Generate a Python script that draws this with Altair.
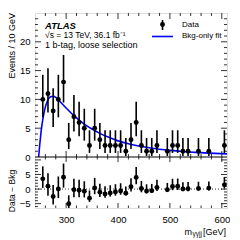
import altair as alt
import pandas as pd

# ---- data ----
bin_center = [255, 265, 275, 285, 295, 305, 315, 325, 335, 345, 355, 365, 375, 385, 395,
              405, 415, 425, 435, 445, 455, 465, 475, 495, 505, 515, 525, 535, 555, 575, 605]
events = [10, 11, 8, 10, 13, 3, 7, 6, 5, 2, 5, 3, 2, 2, 2,
          2, 1, 3, 6, 2, 1, 1, 2, 1, 2, 2, 1, 1, 1, 1, 2]
err_low = [6.89, 7.73, 5.23, 6.89, 9.45, 1.37, 4.42, 3.62, 2.84, 0.71, 2.84, 1.37, 0.71, 0.71, 0.71,
           0.71, 0.17, 1.37, 3.62, 0.71, 0.17, 0.17, 0.71, 0.17, 0.71, 0.71, 0.17, 0.17, 0.17, 0.17, 0.71]
err_high = [14.27, 15.42, 11.95, 14.27, 17.72, 5.92, 10.77, 9.58, 8.38, 4.64, 8.38, 5.92, 4.64, 4.64, 4.64,
            4.64, 3.30, 5.92, 9.58, 4.64, 3.30, 3.30, 4.64, 3.30, 4.64, 4.64, 3.30, 3.30, 3.30, 3.30, 4.64]
residual = [3.5, 1.0, -2.55, 0.05, 4.03, -5.05, -0.2, -0.42, -0.72, -3.12, 0.4, -1.1, -1.7, -1.33, -0.97,
            -0.65, -1.4, 0.8, 4.0, 0.17, -0.67, -0.54, 0.59, -0.2, 0.89, 0.97, 0.05, 0.11, 0.22, 0.32, 1.44]

fit_mass = [247, 249, 251, 253, 255, 257, 260, 263, 266, 270, 275, 280, 285, 290, 300, 310, 320, 330,
            340, 350, 365, 380, 400, 420, 440, 460, 480, 500, 525, 550, 575, 610]
fit_events = [0, 2.0, 3.8, 5.3, 6.5, 7.5, 8.7, 9.5, 10.1, 10.45, 10.55, 10.35, 9.95, 9.45, 8.5, 7.6, 6.8, 6.05,
              5.4, 4.85, 4.1, 3.5, 2.8, 2.3, 1.9, 1.6, 1.35, 1.15, 0.95, 0.8, 0.68, 0.55]

x_labels = [300, 400, 500, 600]
x_minor = [260, 280, 320, 340, 360, 380, 420, 440, 460, 480, 520, 540, 560, 580]
up_labels = [0, 5, 10, 15, 20]
up_major = [5, 10, 15, 20]
up_minor = [1, 2, 3, 4, 6, 7, 8, 9, 11, 12, 13, 14, 16, 17, 18, 19, 21, 22, 23, 24]
lo_labels = [-5, 0, 5]
lo_major = [-5, 0, 5, 10]
lo_minor = [-6, -4, -3, -2, -1, 1, 2, 3, 4, 6, 7, 8, 9]

# ---- layout ----
W = 192
H_UP = 144
H_LO = 51
H = H_UP + H_LO
FONT = "Liberation Sans"

df = pd.DataFrame({"m": bin_center, "n": events, "lo": err_low, "hi": err_high, "r": residual})
fit_df = pd.DataFrame({"m": fit_mass, "b": fit_events})

xs = alt.Scale(domain=[240, 610], nice=False, zero=False)
xax = alt.Axis(values=x_labels, ticks=False, domain=False, grid=False, labelPadding=6,
               labelFontSize=9.5, labelFont=FONT, labelColor="black", title=None)
yus = alt.Scale(domain=[0, 25], range=[H_UP, 0], nice=False, zero=False)
yuax = alt.Axis(values=up_labels, labelExpr="datum.value <= 20 ? datum.label : ''",
                ticks=False, domain=False, grid=False, labelPadding=5,
                labelFontSize=9.5, labelFont=FONT, labelColor="black", title=None, orient="left")
yls = alt.Scale(domain=[-6.5, 11], range=[H, H_UP], nice=False, zero=False)
ylax = alt.Axis(values=lo_labels, labelExpr="datum.value <= 5 ? datum.label : ''",
                ticks=False, domain=False, grid=False, labelPadding=5,
                labelFontSize=9.5, labelFont=FONT, labelColor="black", title=None, orient="left")


def X(f):
    return alt.X(f, type="quantitative", scale=xs, axis=xax)


def xticks(vals, y0, y1):
    return alt.Chart(pd.DataFrame({"v": vals})).mark_rule(color="black", strokeWidth=0.8).encode(
        x=X("v"), y=alt.value(y0), y2=alt.value(y1))


def yticks(vals, scale, axis, length):
    d = pd.DataFrame({"v": vals})
    left = alt.Chart(d).mark_rule(color="black", strokeWidth=0.8).encode(
        y=alt.Y("v:Q", scale=scale, axis=axis), x=alt.value(0), x2=alt.value(length))
    right = alt.Chart(d).mark_rule(color="black", strokeWidth=0.8).encode(
        y=alt.Y("v:Q", scale=scale, axis=axis), x=alt.value(W), x2=alt.value(W - length))
    return [left, right]


def text(s, x, y, size=9, align="left", weight="normal", style="normal", angle=0, baseline="middle",
         color="black"):
    return alt.Chart(pd.DataFrame({"t": [s]})).mark_text(
        text=s, align=align, baseline=baseline, fontSize=size, font=FONT, fontWeight=weight,
        fontStyle=style, angle=angle, color=color).encode(x=alt.value(x), y=alt.value(y))


base = alt.Chart(df)

# ---------------- upper panel ----------------
fit_line = alt.Chart(fit_df).mark_line(color="#0000ff", strokeWidth=1.6, interpolate="monotone",
                                       clip=True).encode(
    x=X("m"), y=alt.Y("b:Q", scale=yus, axis=yuax))
bars = base.mark_rule(color="black", strokeWidth=1.6).encode(
    x=X("m"), y=alt.Y("lo:Q", scale=yus, axis=yuax), y2="hi:Q")
dots = base.mark_circle(color="black", opacity=1, size=24).encode(
    x=X("m"), y=alt.Y("n:Q", scale=yus, axis=yuax))

up_layers = [fit_line, bars, dots,
             xticks(x_labels, 0, 6), xticks(x_minor, 0, 3),
             xticks(x_labels, H_UP, H_UP - 6), xticks(x_minor, H_UP, H_UP - 3)]
up_layers += yticks(up_major, yus, yuax, 6) + yticks(up_minor, yus, yuax, 3)
up_layers += [
    text("ATLAS", 10, 12.5, size=9.5, weight="bold", style="italic"),
    text("\u221As = 13 TeV, 36.1 fb\u207B\u00B9", 10, 22, size=8.5),
    text("1 b-tag, loose selection", 10, 31.5, size=9),
    text("Data", 147, 11.5, size=8),
    text("Bkg-only fit", 147, 22.5, size=8),
    alt.Chart(pd.DataFrame({"a": [0]})).mark_rule(color="black", strokeWidth=1.6).encode(
        x=alt.value(127.5), y=alt.value(7), y2=alt.value(17)),
    alt.Chart(pd.DataFrame({"a": [0]})).mark_circle(color="black", opacity=1, size=24).encode(
        x=alt.value(127.5), y=alt.value(11.5)),
    alt.Chart(pd.DataFrame({"a": [0]})).mark_rule(color="#0000ff", strokeWidth=1.6).encode(
        x=alt.value(117), x2=alt.value(138), y=alt.value(23.5)),
    text("Events / 10 GeV", -23, 0, size=9, angle=270, align="right"),
    text("[GeV]", W - 1, H + 24, size=9, align="right"),
    text("\u03B3\u03B3jj", W - 25, H + 26, size=6.5, align="right"),
    text("m", W - 35, H + 24, size=9, align="right"),
]
upper = alt.layer(*up_layers)

# ---------------- lower panel ----------------
lbase = base.transform_calculate(rlo="datum.r - (datum.n - datum.lo)", rhi="datum.r + (datum.hi - datum.n)")
zero_line = alt.Chart(pd.DataFrame({"z": [0]})).mark_rule(color="black", strokeWidth=0.8,
                                                          strokeDash=[1, 2]).encode(
    y=alt.Y("z:Q", scale=yls, axis=ylax), x=alt.value(0), x2=alt.value(W))
rbars = lbase.mark_rule(color="black", strokeWidth=1.6, clip=True).encode(
    x=X("m"), y=alt.Y("rlo:Q", scale=yls, axis=ylax), y2="rhi:Q")
rdots = base.mark_circle(color="black", opacity=1, size=24, clip=True).encode(
    x=X("m"), y=alt.Y("r:Q", scale=yls, axis=ylax))
sep = alt.Chart(pd.DataFrame({"a": [0]})).mark_rule(color="black", strokeWidth=1).encode(
    x=alt.value(0), x2=alt.value(W), y=alt.value(H_UP))

lo_layers = [zero_line, rbars, rdots, sep,
             xticks(x_labels, H_UP, H_UP + 5), xticks(x_minor, H_UP, H_UP + 2.5),
             xticks(x_labels, H, H - 5), xticks(x_minor, H, H - 2.5)]
lo_layers += yticks(lo_major, yls, ylax, 6) + yticks(lo_minor, yls, ylax, 3)
lo_layers += [
    text("Data \u2212 Bkg", -23, 178, size=8.5, angle=270, align="center"),
]
lower = alt.layer(*lo_layers)

chart = alt.layer(upper, lower).resolve_scale(y="independent").resolve_axis(y="independent").properties(
    width=W, height=H, padding={"left": 0, "top": 4, "right": 0, "bottom": 0}
).configure_view(stroke="black", strokeWidth=1).configure(background="white")

chart.save("out.html", embed_options={"renderer": "svg", "actions": False})
